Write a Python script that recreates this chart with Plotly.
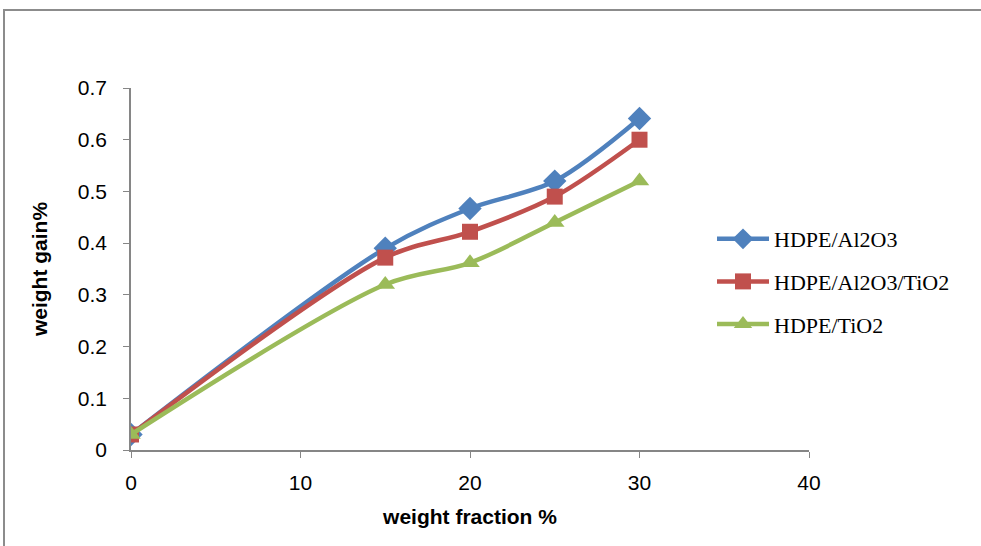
import plotly.graph_objects as go

x_vals = [0, 15, 20, 25, 30]
al2o3 = [0.03, 0.39, 0.467, 0.52, 0.641]
al2o3_tio2 = [0.03, 0.372, 0.422, 0.49, 0.60]
tio2 = [0.03, 0.32, 0.362, 0.44, 0.52]
series_names = ["HDPE/Al2O3", "HDPE/Al2O3/TiO2", "HDPE/TiO2"]
colors = ["#4F81BD", "#C0504D", "#9BBB59"]
symbols = ["diamond", "square", "triangle-up"]
marker_sizes = [18, 16, 17]
x_ticks = [0, 10, 20, 30, 40]
y_ticks = [0, 0.1, 0.2, 0.3, 0.4, 0.5, 0.6, 0.7]

fig = go.Figure()
for name, ys, c, s, ms in zip(series_names, [al2o3, al2o3_tio2, tio2], colors, symbols, marker_sizes):
    fig.add_trace(go.Scatter(
        x=x_vals, y=ys, name=name, legendgroup=name,
        mode="lines+markers",
        line=dict(color=c, width=4.5, shape="spline", smoothing=0.9),
        marker=dict(symbol=s, size=ms, color=c),
    ))

L, R, T, B = 131, 172, 88, 96
W, H = 981, 546
pw, ph = W - L - R, H - T - B

def px(xp):
    return (xp - L) / pw

def py(yp):
    return (H - B - yp) / ph

fig.add_shape(type="rect", xref="paper", yref="paper",
              x0=px(4), x1=px(1100), y0=py(10), y1=py(640),
              line=dict(color="#8C8C8C", width=2), fillcolor="rgba(0,0,0,0)", layer="below")

axis_common = dict(showgrid=False, zeroline=False, showline=True, linecolor="#868686",
                   linewidth=1.5, ticks="outside", ticklen=6, tickcolor="#868686",
                   tickfont=dict(family="Liberation Sans", size=21, color="#000000"))

fig.update_layout(
    width=W, height=H,
    margin=dict(l=L, r=R, t=T, b=B, autoexpand=False),
    paper_bgcolor="white", plot_bgcolor="white",
    xaxis=dict(range=[0, 40], tickvals=x_ticks, ticklabelstandoff=7,
               title=dict(text="<b>weight fraction %</b>", standoff=16,
                          font=dict(family="Liberation Sans", size=21, color="#000")),
               **axis_common),
    yaxis=dict(range=[0, 0.7], tickvals=y_ticks, ticktext=["0", "0.1", "0.2", "0.3", "0.4", "0.5", "0.6", "0.7"],
               ticklabelstandoff=12,
               title=dict(text="<b>weight gain%</b>", standoff=24,
                          font=dict(family="Liberation Sans", size=21, color="#000")),
               **axis_common),
    legend=dict(x=px(712), y=py(218), xanchor="left", yanchor="top",
                font=dict(family="Liberation Serif", size=22, color="#000"),
                traceorder="grouped", tracegroupgap=11, bgcolor="rgba(0,0,0,0)",
                itemwidth=52),
    showlegend=True,
)

fig.write_html("out.html", config={"displayModeBar": False},
               post_script="document.body.style.margin='0';document.body.style.overflow='hidden';")
